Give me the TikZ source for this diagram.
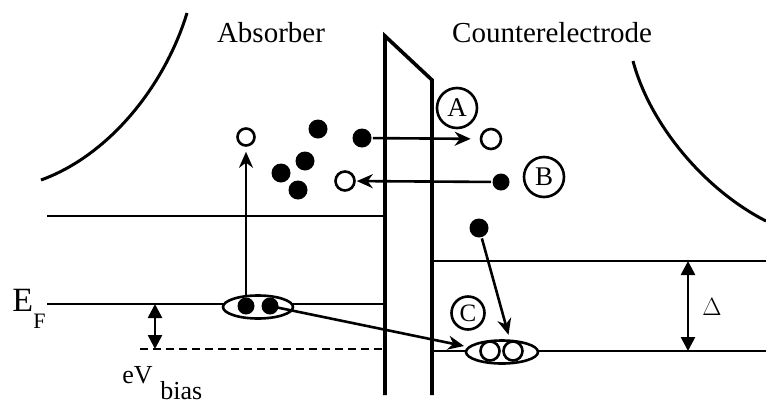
\documentclass[tikz,border=0pt]{standalone}
\usepackage{fontspec}
\setmainfont{Liberation Serif}
\usetikzlibrary{arrows.meta,shapes.geometric}
\begin{document}
\begin{tikzpicture}[x=1pt,y=-1pt,line width=2.6pt,
  fdot/.style={circle,fill=black,inner sep=0pt,minimum size=19pt},
  sdot/.style={circle,fill=black,inner sep=0pt,minimum size=17pt},
  odot/.style={circle,draw,line width=2.6pt,inner sep=0pt,minimum size=17pt},
  lab/.style={circle,draw,line width=2.6pt,inner sep=0pt,minimum size=40pt,font=\fontsize{27}{27}\selectfont},
  pairbox/.style={ellipse,draw,fill=white,line width=2.6pt,inner sep=0pt,minimum width=70pt,minimum height=23pt},
  arr/.style={-{Stealth[length=16pt,width=14pt]}},
  dbl/.style={{Triangle[length=14pt,width=14pt]}-{Triangle[length=14pt,width=14pt]}},
  big/.style={font=\fontsize{29}{29}\selectfont},
  mid/.style={font=\fontsize{26}{26}\selectfont}]
\useasboundingbox (0,0) rectangle (766,405);
% band-bending curves
\draw[line width=3pt] (41,180) .. controls (110,155) and (165,85) .. (187,13);
\draw[line width=3pt] (633,61) .. controls (650,125) and (705,190) .. (766,221);
% barrier
\draw[line width=3.6pt,line join=miter] (385,395) -- (385,36) -- (432,80) -- (432,395);
% levels
\draw (47,216) -- (385,216);
\draw (47,304) -- (385,304);
\draw[dash pattern=on 8pt off 5pt] (140,349) -- (385,349);
\draw (432,261) -- (766,261);
\draw (432,351) -- (766,351);
% labels
\node[big,anchor=base] (absorber) at (271,42) {Absorber};
\node[big,anchor=base] (counter) at (552,42) {Counterelectrode};
\node[font=\fontsize{34}{34}\selectfont,anchor=base west,inner sep=0pt] (ef) at (11,311) {E};
\node[font=\fontsize{22}{22}\selectfont,anchor=base west,inner sep=0pt] (efsub) at (32,328) {F};
\node[mid,anchor=base west,inner sep=0pt] (ev) at (121,383) {eV};
\node[mid,anchor=base west,inner sep=0pt] (evsub) at (159,399) {bias};
\node[font=\fontsize{24}{24}\selectfont,anchor=base,inner sep=0pt] (delta) at (712,315) {$\Delta$};
% pairs
\node[pairbox] (lpair) at (258,307) {};
\node[sdot] (ld1) at (246,306) {};
\node[sdot] (ld2) at (270,306) {};
\node[pairbox,minimum width=72pt] (rpair) at (502,352) {};
\node[odot,minimum size=19pt] (ro1) at (490,351) {};
\node[odot,minimum size=19pt] (ro2) at (513,351) {};
% carriers in absorber
\node[odot] (o1) at (246,137) {};
\node[fdot] (f1) at (318,129) {};
\node[fdot] (f2) at (305,161) {};
\node[fdot] (f3) at (281,173) {};
\node[fdot] (f4) at (298,190) {};
\node[fdot] (fa) at (362,138) {};
\node[odot,minimum size=19pt] (ob) at (345,181) {};
% carriers in counterelectrode
\node[odot,minimum size=20pt] (oa) at (491,139) {};
\node[sdot] (fb) at (501,182) {};
\node[fdot] (fc) at (479,228) {};
% process labels
\node[lab] (A) at (457,108) {A};
\node[lab] (B) at (544,177) {B};
\node[lab,minimum size=33pt,font=\fontsize{25}{25}\selectfont] (C) at (468,313) {C};
% arrows
\draw[arr,shorten >=5pt] (ld1) -- (o1);
\draw[arr,shorten >=9pt] (fa) -- (oa);
\draw[arr,shorten >=1pt] (fb) -- (ob);
\coordinate (ctip) at (464,346);
\draw[arr] (ld2.center) -- (ctip);
\draw[arr,shorten >=6pt] (fc) -- (ro2);
\coordinate (ev1) at (155,304);
\coordinate (ev2) at (155,349);
\draw[dbl] (ev1) -- (ev2);
\coordinate (d1) at (688,261);
\coordinate (d2) at (688,351);
\draw[dbl] (d1) -- (d2);
\end{tikzpicture}
\end{document}
